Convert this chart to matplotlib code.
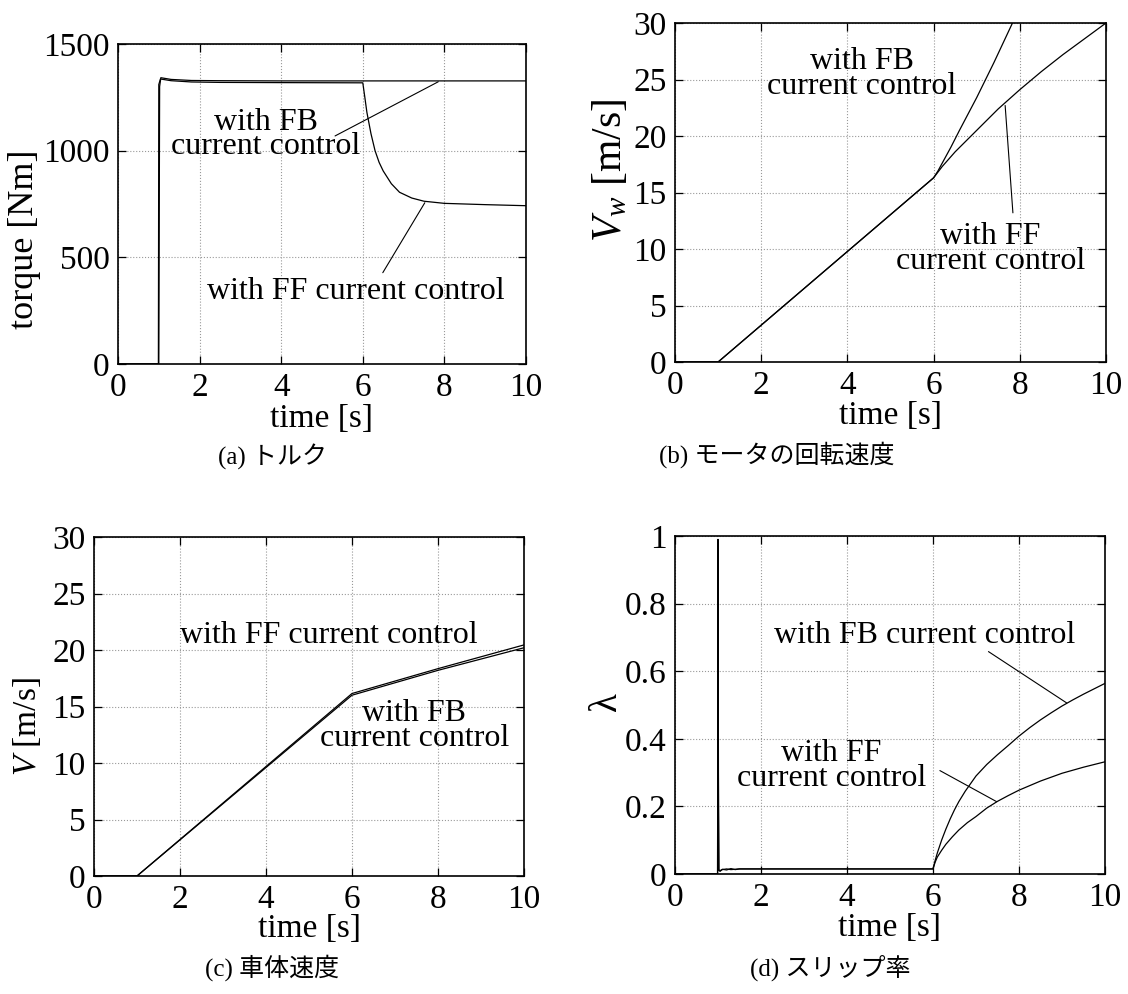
import numpy as np
import matplotlib
matplotlib.use("Agg")
import matplotlib.pyplot as plt

plt.rcParams['font.family'] = ['Liberation Serif', 'Noto Sans CJK JP']
plt.rcParams['mathtext.fontset'] = 'custom'
plt.rcParams['mathtext.rm'] = 'Liberation Serif'
plt.rcParams['mathtext.it'] = 'Liberation Serif:italic'

# ---- torque [Nm] ----
t_trq_fb = [0, 1.00, 1.02, 1.05, 1.3, 1.8, 2.5, 4.0, 6.0, 8.0, 10.0]
trq_fb = [0, 0, 1300, 1342, 1334, 1329, 1328, 1327, 1327, 1327, 1327]
t_trq_ff = [0, 0.99, 1.00, 1.04, 1.3, 1.8, 2.5, 4.0, 6.0, 6.05, 6.1, 6.2, 6.3, 6.4,
            6.5, 6.7, 6.9, 7.2, 7.5, 8.0, 9.0, 10.0]
trq_ff = [0, 0, 1310, 1336, 1328, 1322, 1320, 1319, 1318, 1250, 1180, 1080, 1000, 945,
          905, 845, 805, 778, 763, 753, 747, 742]

# ---- wheel speed Vw [m/s] ----
t_vw_fb = [0, 1.0, 6.0, 6.1, 6.2, 6.4, 6.6, 7.0, 7.4, 7.83, 8.0]
vw_fb = [0, 0, 16.3, 16.9, 17.6, 19.0, 20.5, 23.4, 26.5, 30.0, 31.3]
t_vw_ff = [0, 1.0, 6.0, 6.2, 6.5, 7.0, 7.5, 8.0, 8.5, 9.0, 9.5, 10.0]
vw_ff = [0, 0, 16.3, 17.3, 18.6, 20.5, 22.4, 24.1, 25.7, 27.2, 28.6, 30.0]

# ---- body speed V [m/s] ----
t_v = [0, 1.0, 6.0, 7.0, 8.0, 9.0, 10.0]
v_fb = [0, 0, 16.0, 17.1, 18.2, 19.2, 20.2]
v_ff = [0, 0, 16.15, 17.25, 18.35, 19.4, 20.45]

# ---- slip ratio ----
t_lam_fb = [0, 0.99, 1.0, 1.01, 1.02, 1.05, 1.1, 1.2, 1.3, 1.4, 1.5, 2.0, 6.0,
            6.05, 6.1, 6.2, 6.3, 6.4, 6.5, 6.6, 6.75, 7.0, 7.25, 7.5, 7.75, 8.0,
            8.25, 8.5, 8.75, 9.0, 9.25, 9.5, 9.75, 10.0]
lam_fb = [0, 0, 0.99, 0.3, 0.01, 0.008, 0.014, 0.012, 0.016, 0.013, 0.015, 0.015, 0.015,
          0.04, 0.062, 0.10, 0.133, 0.163, 0.19, 0.214, 0.245, 0.29, 0.324, 0.353, 0.38,
          0.408, 0.433, 0.456, 0.477, 0.497, 0.515, 0.532, 0.548, 0.564]
t_lam_ff = [0, 0.99, 1.0, 1.01, 1.02, 1.05, 1.1, 1.2, 1.3, 1.5, 2.0, 6.0,
            6.05, 6.1, 6.2, 6.3, 6.45, 6.6, 6.8, 7.0, 7.25, 7.5, 7.75, 8.0,
            8.5, 9.0, 9.5, 10.0]
lam_ff = [0, 0, 0.97, 0.2, 0.012, 0.01, 0.013, 0.015, 0.013, 0.015, 0.015, 0.015,
          0.035, 0.05, 0.07, 0.088, 0.11, 0.13, 0.152, 0.17, 0.195, 0.215, 0.232, 0.248,
          0.275, 0.298, 0.316, 0.332]

W, H = 1128, 994
fig = plt.figure(figsize=(W / 100, H / 100), dpi=100)


def px_axes(l, r, t, b):
    return fig.add_axes([l / W, 1 - b / H, (r - l) / W, (b - t) / H])


def style(ax, ymax, yticks):
    ax.set_xlim(0, 10)
    ax.set_ylim(0, ymax)
    ax.set_xticks([0, 2, 4, 6, 8, 10])
    ax.set_yticks(yticks)
    ax.tick_params(direction='in', top=True, right=True, length=6, width=0.9,
                   labelsize=24, pad=6)
    ax.grid(True, linestyle=':', color='0.6', linewidth=0.8)
    for s in ax.spines.values():
        s.set_linewidth(1.2)


def leader(ax, xy, xytext):
    ax.annotate('', xy=xy, xytext=xytext,
                arrowprops=dict(arrowstyle='-', lw=0.8, color='k',
                                shrinkA=0, shrinkB=0))


txt = dict(fontsize=23, ha='center', va='center', linespacing=0.8)
lw = 0.9

# (a) torque
ax = px_axes(118, 526, 44, 364)
ax.plot(t_trq_fb, trq_fb, 'k', lw=lw)
ax.plot(t_trq_ff, trq_ff, 'k', lw=lw)
style(ax, 1500, [0, 500, 1000, 1500])
ax.set_xlabel('time [s]', fontsize=24, va='center')
ax.xaxis.set_label_coords(0.5, -0.17)
ax.set_ylabel('torque [Nm]', fontsize=26, va='center')
ax.yaxis.set_label_coords(-0.23, 0.39)
ax.text(3.62, 1075, 'with FB\ncurrent control', **txt)
leader(ax, (7.85, 1323), (5.32, 1069))
ax.text(5.83, 342, 'with FF current control', **txt)
leader(ax, (7.52, 756), (6.49, 428))

# (b) wheel speed
ax = px_axes(675, 1106, 23, 362)
ax.plot(t_vw_fb, vw_fb, 'k', lw=lw)
ax.plot(t_vw_ff, vw_ff, 'k', lw=lw)
style(ax, 30, [0, 5, 10, 15, 20, 25, 30])
ax.set_xlabel('time [s]', fontsize=24, va='center')
ax.xaxis.set_label_coords(0.5, -0.16)
ax.set_ylabel(r'$V_w$ [m/s]', fontsize=30, va='center')
ax.yaxis.set_label_coords(-0.15, 0.566)
ax.text(4.33, 25.5, 'with FB\ncurrent control', **txt)
ax.text(7.32, 10.0, 'with FF\ncurrent control', **txt)
leader(ax, (7.66, 22.7), (7.84, 13.2))

# (c) body speed
ax = px_axes(94, 524, 537, 876)
ax.plot(t_v, v_fb, 'k', lw=lw)
ax.plot(t_v, v_ff, 'k', lw=lw)
style(ax, 30, [0, 5, 10, 15, 20, 25, 30])
ax.set_xlabel('time [s]', fontsize=24, va='center')
ax.xaxis.set_label_coords(0.5, -0.155)
ax.set_ylabel(r'$V$ [m/s]', fontsize=24, va='center')
ax.yaxis.set_label_coords(-0.155, 0.442)
ax.text(5.45, 21.25, 'with FF current control', **txt)
ax.text(7.45, 13.3, 'with FB\ncurrent control', **txt)

# (d) slip ratio
ax = px_axes(675, 1105, 536, 874)
ax.plot(t_lam_fb, lam_fb, 'k', lw=lw)
ax.plot(t_lam_ff, lam_ff, 'k', lw=lw)
style(ax, 1, [0, 0.2, 0.4, 0.6, 0.8, 1])
ax.set_yticklabels(['0', '0.2', '0.4', '0.6', '0.8', '1'])
ax.set_xlabel('time [s]', fontsize=24, va='center')
ax.xaxis.set_label_coords(0.5, -0.16)
ax.set_ylabel('λ', fontsize=28, va='center')
ax.yaxis.set_label_coords(-0.16, 0.509)
ax.text(5.80, 0.707, 'with FB current control', **txt)
leader(ax, (9.11, 0.506), (7.29, 0.658))
ax.text(3.64, 0.32, 'with FF\ncurrent control', **txt)
leader(ax, (7.48, 0.214), (6.16, 0.306))

# captions
cap = dict(fontsize=18, ha='center', va='center')
fig.text(272 / W, 1 - 457 / H, '(a) トルク', **cap)
fig.text(777 / W, 1 - 455 / H, '(b) モータの回転速度', **cap)
fig.text(272 / W, 1 - 968 / H, '(c) 車体速度', **cap)
fig.text(830 / W, 1 - 968 / H, '(d) スリップ率', **cap)

fig.savefig('out.png', dpi=100)
